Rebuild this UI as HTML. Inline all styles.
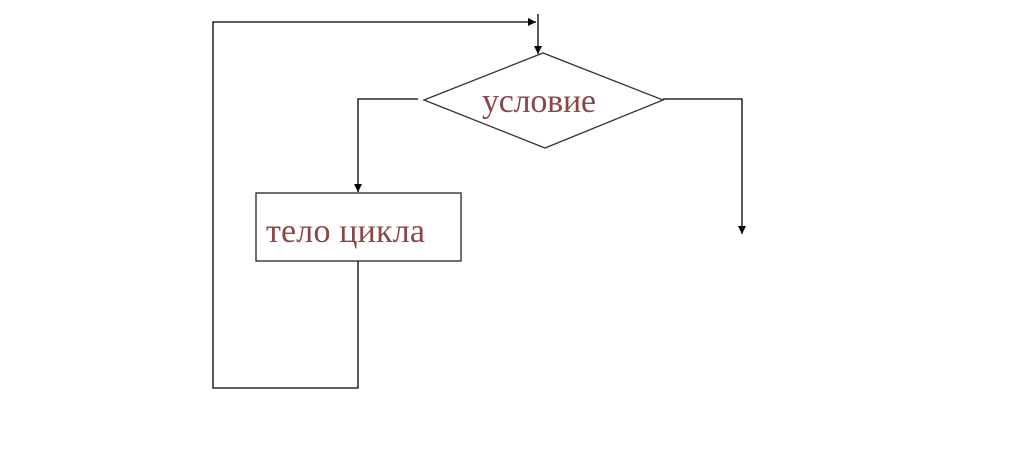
<!DOCTYPE html>
<html><head><meta charset="utf-8"><style>
html,body{margin:0;padding:0;background:#fff;width:1016px;height:454px;overflow:hidden}
</style></head><body>
<svg width="1016" height="454" xmlns="http://www.w3.org/2000/svg">
<defs><marker id="a" markerWidth="8" markerHeight="8" refX="8" refY="4" orient="auto" markerUnits="userSpaceOnUse"><path d="M0,0 L8,4 L0,8 z" fill="#000"/></marker></defs>
<g stroke="#000" stroke-width="1.3" fill="none">
<polyline points="358,261 358,388 213,388 213,22 536,22" marker-end="url(#a)"/>
<line x1="538" y1="14" x2="538" y2="54" marker-end="url(#a)"/>
<polyline points="418,99 358,99 358,192" marker-end="url(#a)"/>
<polyline points="663,99 742,99 742,234" marker-end="url(#a)"/>
<polygon points="424,100 543,53 663,100 545,148" stroke="#333"/>
<rect x="256" y="193" width="205" height="68" stroke="#222"/>
</g>
<g font-family="Liberation Serif, serif" font-size="34" fill="#8a4747">
<text x="539" y="112" text-anchor="middle" textLength="114">условие</text>
<text x="266" y="242" textLength="159">тело цикла</text>
</g>
</svg>
</body></html>
